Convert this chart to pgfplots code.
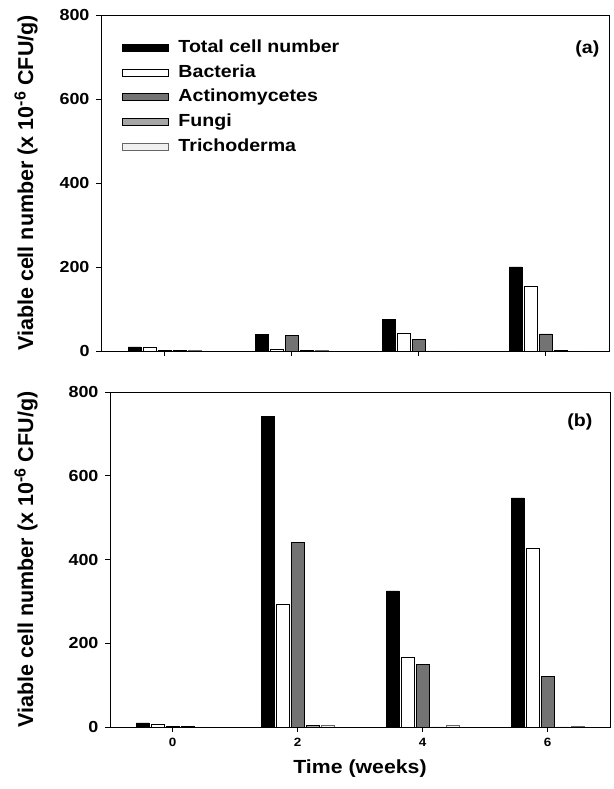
\documentclass[border=0pt]{standalone}
\usepackage{fontspec}
\setmainfont{Liberation Sans}[FakeStretch=1.12]
\newfontfamily\ylabfont{Liberation Sans}
\usepackage{pgfplots}
\usepackage{pgfplotstable}
\pgfplotsset{compat=1.18}

% week, total cell number, bacteria, actinomycetes, fungi, trichoderma
\pgfplotstableread{
week total bact actino fungi tricho
0 10 8 2 1 1
2 40 5 37 1 1
4 75 43 27 0 0
6 200 153 41 1 0
}\panela
\pgfplotstableread{
week total bact actino fungi tricho
0 10 7 2 1 0
2 741 293 441 4 4
4 325 166 150 0 3
6 547 427 121 0 2
}\panelb

\pgfplotsset{
  panel/.style={scale only axis, ymin=0, ymax=800, xmin=-1, xmax=7,
    ytick={0,200,400,600,800}, xtick={0,2,4,6},
    xtick pos=bottom, ytick pos=left, tick align=outside,
    major tick length=5pt, tick style={black, line width=0.6pt},
    axis line style={line width=0.7pt},
    /pgf/number format/assume math mode=true,
    yticklabel style={font=\fontsize{16}{18}\selectfont\bfseries, xshift=-3pt},
    xticklabel style={font=\fontsize{12}{14}\selectfont\bfseries, yshift=-3pt},
    ylabel={Viable cell number (x 10\textsuperscript{\fontsize{16}{18}\selectfont -6} CFU/g)},
    legend cell align=left},
  ylab/.style={every axis y label/.style={at={(rel axis cs:0,0.5)}, rotate=90, anchor=center,
    yshift=#1, font=\ylabfont\fontsize{21.5}{24}\selectfont\bfseries}},
  bars/.style={ybar, bar width=12.5pt, draw=black, line width=0.5pt,
    legend image code/.code={\draw[##1] (0pt,-3.5pt) rectangle (46pt,3.5pt);}},
}

\begin{document}
\begin{tikzpicture}
\useasboundingbox (0pt,0pt) rectangle (613pt,789pt);
\begin{axis}[panel, ylab=75pt, at={(101pt,438pt)}, anchor=south west, width=508pt, height=336pt,
  xticklabels={},
  legend style={at={(axis description cs:0.035,0.94)}, anchor=north west, draw=none, fill=none,
    font=\fontsize{17.5}{20}\selectfont\bfseries,
    nodes={text height=13pt, text depth=4pt, inner sep=2pt}, row sep=3.7pt,
    /tikz/every odd column/.append style={column sep=8pt}}]
\addplot[bars, bar shift=-30pt, fill=black] table[x=week, y=total] {\panela};
\addplot[bars, bar shift=-15pt, fill=white] table[x=week, y=bact] {\panela};
\addplot[bars, bar shift=0pt, fill=black!55] table[x=week, y=actino] {\panela};
\addplot[bars, bar shift=15pt, fill=black!35] table[x=week, y=fungi] {\panela};
\addplot[bars, bar shift=30pt, fill=black!6, draw=black!60] table[x=week, y=tricho] {\panela};
\legend{Total cell number, Bacteria, Actinomycetes, Fungi, Trichoderma}
\node[font=\fontsize{17.5}{20}\selectfont\bfseries, anchor=east] at (rel axis cs:0.988,0.9) {(a)};
\end{axis}
\begin{axis}[panel, ylab=84pt, at={(110pt,62pt)}, anchor=south west, width=500pt, height=335pt,
  xlabel={Time (weeks)}, xlabel style={font=\fontsize{19}{22}\selectfont\bfseries, yshift=-6pt}]
\addplot[bars, bar shift=-30pt, fill=black] table[x=week, y=total] {\panelb};
\addplot[bars, bar shift=-15pt, fill=white] table[x=week, y=bact] {\panelb};
\addplot[bars, bar shift=0pt, fill=black!55] table[x=week, y=actino] {\panelb};
\addplot[bars, bar shift=15pt, fill=black!35] table[x=week, y=fungi] {\panelb};
\addplot[bars, bar shift=30pt, fill=black!6, draw=black!60] table[x=week, y=tricho] {\panelb};
\node[font=\fontsize{17.5}{20}\selectfont\bfseries, anchor=east] at (rel axis cs:0.972,0.912) {(b)};
\end{axis}
\end{tikzpicture}
\end{document}
